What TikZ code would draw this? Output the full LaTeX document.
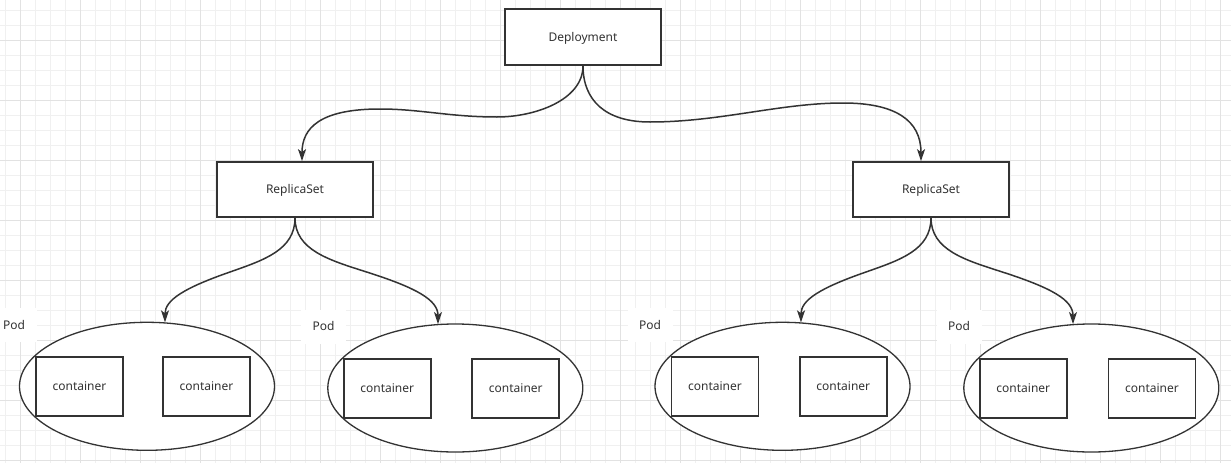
\documentclass[tikz,border=0pt]{standalone}
\usepackage{fontspec}
\setmainfont{Noto Sans}
\usetikzlibrary{arrows.meta,shapes.geometric,calc}
\definecolor{ink}{HTML}{333333}
\definecolor{gmin}{HTML}{F0F0F0}
\definecolor{gmaj}{HTML}{E2E2E2}
\begin{document}
\begin{tikzpicture}[x=1pt,y=-1pt,
  lbl/.style={text=ink,font=\fontsize{12}{14}\selectfont,text height=8pt,text depth=0pt},
  box/.style={lbl,draw=ink,line width=1.7pt,fill=white,minimum width=156pt,minimum height=55pt,inner sep=0pt},
  cbox/.style={box,minimum width=87pt,minimum height=59pt},
  pod/.style={draw=ink,line width=1.3pt,fill=white,ellipse,minimum width=255pt,minimum height=128pt,inner sep=0pt},
  podlbl/.style={lbl,fill=white,minimum width=45pt,minimum height=34pt,inner sep=0pt},
  link/.style={draw=ink,line width=1.5pt,-{Stealth[length=12pt,width=8pt,inset=3pt]}},
  gminor/.style={draw=gmin,line width=1pt},
  gmajor/.style={draw=gmaj,line width=1pt}]
\useasboundingbox (0,0) rectangle (1231,463);
\fill[white] (0,0) rectangle (1231,463);
% grid
\foreach \x in {5.5,20.5,...,1231} {\draw[gminor] (\x,0) -- (\x,463);}
\foreach \y in {10,25,...,463} {\draw[gminor] (0,\y) -- (1231,\y);}
\foreach \x in {20.5,80.5,...,1231} {\draw[gmajor] (\x,0) -- (\x,463);}
\foreach \y in {40,100,...,463} {\draw[gmajor] (0,\y) -- (1231,\y);}

% top boxes
\node[box,minimum height=56pt] (dep) at (583,37) {Deployment};
\node[box] (rs1) at (295,189.5) {ReplicaSet};
\node[box] (rs2) at (931,189.5) {ReplicaSet};

% pod labels
\node[podlbl] (p1) at (14,325) {Pod};
\node[podlbl] (p2) at (323.5,326.5) {Pod};
\node[podlbl] (p3) at (650,325) {Pod};
\node[podlbl] (p4) at (959,326.5) {Pod};

% pods
\node[pod] (e1) at (147,386.3) {};
\node[pod] (e2) at (455.3,388) {};
\node[pod] (e3) at (782.5,386.3) {};
\node[pod] (e4) at (1091.3,388) {};

% containers
\node[cbox] (c11) at (79.5,386.5) {container};
\node[cbox] (c12) at (206.5,386.5) {container};
\node[cbox] (c21) at (387.2,388.3) {container};
\node[cbox] (c22) at (515.8,388.3) {container};
\node[cbox] (c31) at (715,386.3) {container};
\node[cbox] (c32) at (843.3,386.3) {container};
\node[cbox] (c41) at (1023.3,388.3) {container};
\node[cbox] (c42) at (1152,388.3) {container};

% connector end points
\coordinate (r1top) at ($(rs1.north)+(7,0)$);
\coordinate (r2top) at ($(rs2.north)+(-10,0)$);
\coordinate (e1a) at ($(e1.north)+(18,0.7)$);
\coordinate (e2a) at ($(e2.north)+(-17.3,0.7)$);
\coordinate (e3a) at ($(e3.north)+(18.5,0.7)$);
\coordinate (e4a) at ($(e4.north)+(-18.3,0.7)$);

% connectors
\draw[link] (dep.south) .. controls (583,100) and (535,117) .. (497,117)
  .. controls (450,117) and (420,109) .. (380,109)
  .. controls (320,109) and (302,128) .. (r1top);
\draw[link] (dep.south) .. controls (583,100) and (605,122) .. (650,122)
  .. controls (720,122) and (780,103) .. (843,103)
  .. controls (895,103) and (921,120) .. (r2top);

\draw[link] (rs1.south) .. controls (295,250) and (264,260) .. (230,272)
  .. controls (184,288) and (165,300) .. (e1a);
\draw[link] (rs1.south) .. controls (295,250) and (329,260) .. (366,271.8)
  .. controls (417,288) and (438,300) .. (e2a);
\draw[link] (rs2.south) .. controls (931,250) and (900,260) .. (866,272)
  .. controls (820,288) and (801,300) .. (e3a);
\draw[link] (rs2.south) .. controls (931,250) and (965,260) .. (1002,271.9)
  .. controls (1052,288) and (1073,300) .. (e4a);
\end{tikzpicture}
\end{document}
